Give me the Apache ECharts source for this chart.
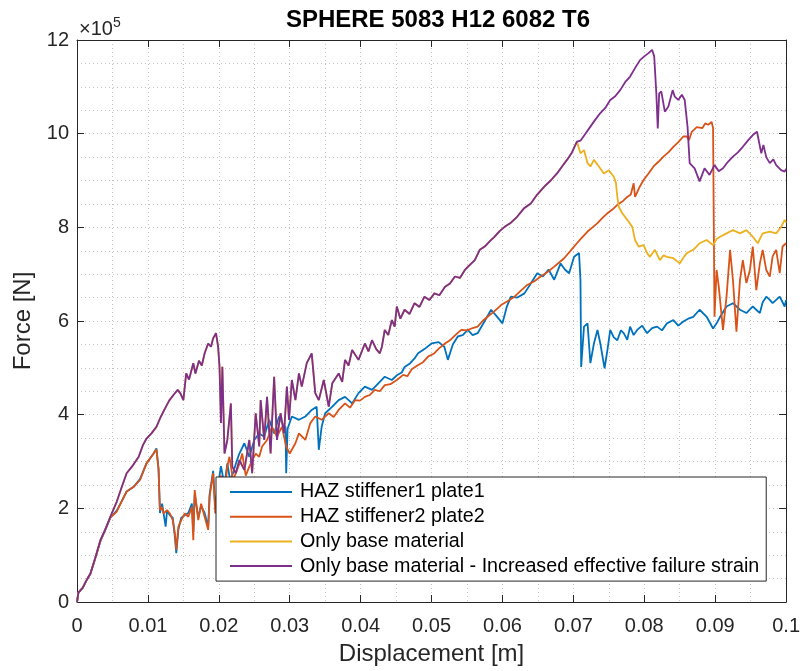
<!DOCTYPE html>
<html>
<head>
<meta charset="utf-8">
<script src="https://cdn.jsdelivr.net/npm/echarts@6/dist/echarts.min.js"></script>
<style>
  html, body { margin: 0; padding: 0; background: #fff; }
  #chart { width: 803px; height: 671px; }
</style>
</head>
<body>
<div id="chart"></div>
<script>
// displacement [m], force [x10^5 N]
var seriesNames = ['HAZ stiffener1 plate1', 'HAZ stiffener2 plate2', 'Only base material',
  'Only base material - Increased effective failure strain'];
var colors = ['#0072BD', '#D95319', '#EDB120', '#7E2F8E'];
var xTicks = [0, 0.01, 0.02, 0.03, 0.04, 0.05, 0.06, 0.07, 0.08, 0.09, 0.1];
var yTicks = [0, 2, 4, 6, 8, 10, 12];

var haz1 = [[0,0],[0.0002,0.2],[0.0008,0.3],[0.0013,0.45],[0.0019,0.61],[0.0026,0.95],[0.0033,1.3],[0.0040,1.55],
  [0.0047,1.8],[0.0056,1.95],[0.0063,2.15],[0.0070,2.36],[0.0080,2.46],[0.0089,2.63],[0.0098,2.96],[0.0108,3.17],
  [0.0112,3.28],[0.0115,2.85],[0.0117,1.9],[0.0120,2.1],[0.0125,1.61],[0.0127,1.95],[0.0131,1.85],[0.0135,1.8],
  [0.0138,1.4],[0.0140,1.04],[0.0143,1.55],[0.0147,1.8],[0.0152,1.85],[0.0157,1.9],[0.0162,2.1],[0.0164,1.5],
  [0.0166,2.3],[0.0171,1.8],[0.0175,2.05],[0.0180,1.9],[0.0185,1.6],[0.0187,2.3],[0.0192,2.8],[0.0195,2.0],
  [0.0199,2.5],[0.0203,2.9],[0.0208,2.5],[0.0212,2.96],[0.0216,2.6],[0.0220,2.75],[0.0225,3.0],[0.0229,3.17],
  [0.0236,3.39],[0.0243,3.10],[0.0250,3.46],[0.0257,3.60],[0.0264,3.53],[0.0271,3.89],[0.0278,3.60],[0.0285,3.96],
  [0.0290,3.8],[0.0294,3.74],[0.0295,2.75],[0.0297,3.7],[0.0303,3.96],[0.0313,3.89],[0.0322,3.96],[0.0331,4.10],
  [0.0338,4.17],[0.0341,3.25],[0.0345,3.74],[0.0350,4.03],[0.0360,4.17],[0.0369,4.31],[0.0378,4.38],[0.0388,4.24],
  [0.0397,4.46],[0.0406,4.60],[0.0416,4.53],[0.0425,4.67],[0.0434,4.81],[0.0444,4.74],[0.0451,4.84],[0.0458,4.9],
  [0.0462,5.02],[0.0470,5.1],[0.0476,5.2],[0.0481,5.31],[0.0490,5.4],[0.0500,5.52],[0.0510,5.55],[0.0518,5.45],
  [0.0523,5.17],[0.0530,5.5],[0.0537,5.67],[0.0544,5.7],[0.0551,5.81],[0.0558,5.7],[0.0565,5.74],[0.0575,6.0],
  [0.0584,6.24],[0.0592,6.1],[0.0600,5.95],[0.0606,6.3],[0.0612,6.52],[0.0621,6.5],[0.0631,6.59],[0.0640,6.8],
  [0.0649,7.02],[0.0657,6.95],[0.0665,7.1],[0.0673,6.88],[0.0682,7.23],[0.0688,7.1],[0.0694,7.02],[0.0701,7.37],
  [0.0708,7.45],[0.0710,6.88],[0.0711,5.02],[0.0715,5.88],[0.0720,5.95],[0.0724,5.10],[0.0729,5.52],[0.0734,5.81],
  [0.0738,5.52],[0.0744,4.99],[0.0748,5.38],[0.0752,5.81],[0.0757,5.65],[0.0762,5.59],[0.0767,5.8],[0.0771,5.74],
  [0.0776,5.6],[0.0780,5.88],[0.0785,5.7],[0.0790,5.81],[0.0797,5.9],[0.0804,5.74],[0.0811,5.85],[0.0818,5.88],
  [0.0825,5.8],[0.0832,5.95],[0.0841,6.02],[0.0848,5.9],[0.0855,5.99],[0.0862,6.05],[0.0869,6.09],[0.0878,6.24],
  [0.0888,6.09],[0.0897,5.84],[0.0902,5.95],[0.0907,6.09],[0.0916,6.31],[0.0925,6.38],[0.0935,6.24],[0.0944,6.17],
  [0.0953,6.31],[0.0963,6.17],[0.0967,6.4],[0.0972,6.52],[0.0977,6.45],[0.0981,6.38],[0.0991,6.52],[0.0995,6.4],
  [0.0998,6.31],[0.1,6.45]];

var haz2 = [[0,0],[0.0002,0.2],[0.0008,0.3],[0.0013,0.45],[0.0019,0.61],[0.0026,0.95],[0.0033,1.3],[0.0040,1.55],
  [0.0047,1.8],[0.0056,1.93],[0.0063,2.15],[0.0070,2.36],[0.0080,2.46],[0.0089,2.61],[0.0098,2.96],[0.0108,3.17],
  [0.0112,3.26],[0.0115,2.82],[0.0117,1.96],[0.0120,2.03],[0.0122,1.89],[0.0127,1.96],[0.0131,1.89],[0.0135,1.75],
  [0.0138,1.47],[0.0140,1.11],[0.0143,1.61],[0.0147,1.75],[0.0152,1.89],[0.0157,1.82],[0.0162,2.03],[0.0164,1.32],
  [0.0166,2.39],[0.0171,1.75],[0.0175,2.10],[0.0180,1.82],[0.0185,1.54],[0.0187,2.25],[0.0192,2.75],[0.0195,1.89],
  [0.0199,2.46],[0.0203,2.7],[0.0208,2.3],[0.0212,2.9],[0.0215,3.10],[0.0220,2.6],[0.0224,2.75],[0.0229,2.95],
  [0.0233,3.17],[0.0238,2.7],[0.0243,2.89],[0.0248,3.05],[0.0252,3.17],[0.0257,3.1],[0.0261,3.32],[0.0268,3.46],
  [0.0275,3.74],[0.0282,3.53],[0.0289,3.74],[0.0295,3.32],[0.0300,3.17],[0.0308,3.39],[0.0313,3.60],[0.0322,3.46],
  [0.0329,3.82],[0.0336,3.96],[0.0345,3.89],[0.0355,4.03],[0.0362,3.95],[0.0369,4.10],[0.0378,4.24],[0.0385,4.15],
  [0.0392,4.31],[0.0399,4.3],[0.0406,4.38],[0.0413,4.42],[0.0420,4.53],[0.0427,4.5],[0.0434,4.63],[0.0442,4.65],
  [0.0451,4.74],[0.0460,4.85],[0.0466,4.82],[0.0472,4.97],[0.0480,5.05],[0.0488,5.12],[0.0495,5.24],[0.0503,5.3],
  [0.0511,5.42],[0.0519,5.52],[0.0527,5.6],[0.0535,5.72],[0.0542,5.81],[0.0550,5.8],[0.0558,5.85],[0.0565,5.88],
  [0.0572,6.0],[0.0579,6.09],[0.0588,6.2],[0.0598,6.34],[0.0607,6.42],[0.0617,6.52],[0.0626,6.65],[0.0635,6.77],
  [0.0645,6.85],[0.0654,6.95],[0.0664,7.05],[0.0673,7.16],[0.0680,7.25],[0.0687,7.34],[0.0695,7.48],[0.0705,7.66],
  [0.0712,7.78],[0.0720,7.91],[0.0727,8.0],[0.0734,8.09],[0.0741,8.2],[0.0748,8.30],[0.0755,8.38],[0.0762,8.48],
  [0.0769,8.55],[0.0776,8.65],[0.0781,8.7],[0.0785,8.94],[0.0787,8.65],[0.0793,8.85],[0.0799,9.01],[0.0806,9.15],
  [0.0813,9.30],[0.0820,9.4],[0.0827,9.51],[0.0834,9.6],[0.0841,9.72],[0.0848,9.82],[0.0855,9.94],[0.0860,9.94],
  [0.0863,9.86],[0.0867,10.04],[0.0874,10.14],[0.0882,10.12],[0.0886,10.22],[0.0890,10.19],[0.0895,10.25],[0.0897,10.12],
  [0.0899,6.09],[0.0902,7.09],[0.0905,6.74],[0.0911,5.81],[0.0916,6.52],[0.0921,7.52],[0.0925,6.88],[0.0930,5.77],
  [0.0935,6.88],[0.0939,7.30],[0.0944,6.81],[0.0949,7.09],[0.0953,7.59],[0.0958,6.66],[0.0963,7.23],[0.0967,7.52],
  [0.0972,7.09],[0.0977,6.95],[0.0981,7.38],[0.0986,7.52],[0.0991,7.02],[0.0995,7.59],[0.1,7.66]];

var increasedStrain = [[0,0],[0.0002,0.2],[0.0008,0.3],[0.0013,0.45],[0.0019,0.61],[0.0026,0.95],[0.0033,1.32],
  [0.0040,1.55],[0.0047,1.82],[0.0056,2.14],[0.0063,2.45],[0.0070,2.75],[0.0078,2.9],[0.0087,3.10],[0.0093,3.35],
  [0.0098,3.49],[0.0105,3.6],[0.0112,3.74],[0.0118,3.95],[0.0124,4.13],[0.0130,4.3],[0.0136,4.42],[0.0142,4.53],
  [0.0146,4.45],[0.0150,4.31],[0.0154,4.88],[0.0158,4.75],[0.0164,5.10],[0.0167,4.88],[0.0172,5.15],[0.0176,5.05],
  [0.0180,5.31],[0.0185,5.52],[0.0189,5.45],[0.0192,5.63],[0.0196,5.74],[0.0199,5.45],[0.0201,5.02],[0.0203,3.82],
  [0.0205,5.02],[0.0208,3.17],[0.0212,3.46],[0.0217,4.24],[0.0219,2.89],[0.0224,2.75],[0.0229,3.03],[0.0236,2.82],
  [0.0243,3.46],[0.0247,2.75],[0.0252,4.03],[0.0257,3.32],[0.0259,4.31],[0.0264,3.46],[0.0268,4.38],[0.0273,3.17],
  [0.0278,4.81],[0.0282,3.46],[0.0287,4.03],[0.0292,3.60],[0.0296,4.60],[0.0299,3.89],[0.0303,4.74],[0.0308,4.31],
  [0.0313,4.88],[0.0317,4.60],[0.0324,5.10],[0.0331,5.31],[0.0336,4.46],[0.0341,4.31],[0.0348,4.74],[0.0355,4.17],
  [0.0360,4.67],[0.0369,4.88],[0.0374,4.7],[0.0378,5.17],[0.0383,5.05],[0.0388,5.38],[0.0397,5.17],[0.0406,5.52],
  [0.0411,5.35],[0.0416,5.59],[0.0422,5.4],[0.0427,5.31],[0.0430,5.45],[0.0434,5.81],[0.0439,5.7],[0.0444,6.02],
  [0.0448,5.88],[0.0451,6.31],[0.0456,6.05],[0.0462,6.24],[0.0469,6.15],[0.0476,6.38],[0.0483,6.3],[0.0490,6.52],
  [0.0497,6.45],[0.0504,6.59],[0.0511,6.55],[0.0519,6.73],[0.0526,6.8],[0.0533,6.95],[0.0540,6.92],[0.0547,7.09],
  [0.0554,7.2],[0.0561,7.30],[0.0568,7.52],[0.0575,7.59],[0.0582,7.7],[0.0589,7.80],[0.0596,7.92],[0.0603,8.01],
  [0.0612,8.1],[0.0621,8.23],[0.0630,8.4],[0.0640,8.51],[0.0649,8.7],[0.0659,8.87],[0.0668,9.0],[0.0677,9.15],
  [0.0684,9.3],[0.0691,9.44],[0.0698,9.6],[0.0705,9.83],[0.0710,9.85],[0.0717,10.0],[0.0724,10.15],[0.0731,10.3],
  [0.0738,10.44],[0.0745,10.55],[0.0752,10.72],[0.0759,10.8],[0.0766,10.93],[0.0773,11.1],[0.0780,11.22],[0.0787,11.4],
  [0.0794,11.57],[0.0800,11.65],[0.0806,11.72],[0.0811,11.79],[0.0814,11.65],[0.0817,10.86],[0.0819,10.11],[0.0821,10.86],
  [0.0824,10.90],[0.0829,10.47],[0.0834,10.58],[0.0840,10.93],[0.0843,10.79],[0.0848,10.72],[0.0853,10.83],[0.0857,10.72],
  [0.0861,10.15],[0.0864,9.37],[0.0871,9.26],[0.0878,8.98],[0.0885,9.26],[0.0892,9.12],[0.0899,9.33],[0.0905,9.2],
  [0.0911,9.26],[0.0918,9.4],[0.0925,9.51],[0.0932,9.6],[0.0939,9.72],[0.0946,9.85],[0.0953,9.97],[0.0959,10.04],
  [0.0965,9.58],[0.0968,9.76],[0.0972,9.5],[0.0977,9.37],[0.0982,9.45],[0.0986,9.33],[0.0993,9.22],[0.0998,9.19],[0.1,9.25]];

// base material follows the increased-strain curve until it fails near 0.0705 m
var baseTail = [[0.0710,9.58],[0.0715,9.65],[0.0720,9.37],[0.0724,9.30],[0.0729,9.44],[0.0736,9.30],[0.0743,9.15],
  [0.0750,9.22],[0.0757,9.08],[0.0760,8.95],[0.0762,8.65],[0.0764,8.44],[0.0769,8.30],[0.0776,8.16],[0.0783,8.01],
  [0.0787,7.73],[0.0792,7.59],[0.0799,7.62],[0.0804,7.45],[0.0808,7.37],[0.0815,7.52],[0.0822,7.30],[0.0827,7.4],
  [0.0832,7.37],[0.0841,7.34],[0.0850,7.23],[0.0855,7.35],[0.0860,7.45],[0.0869,7.52],[0.0878,7.66],[0.0888,7.73],
  [0.0897,7.62],[0.0902,7.75],[0.0907,7.80],[0.0916,7.87],[0.0925,7.94],[0.0935,7.87],[0.0944,7.94],[0.0953,7.80],
  [0.0960,7.66],[0.0967,7.87],[0.0977,7.91],[0.0986,7.87],[0.0993,8.01],[0.0998,8.16],[0.1,8.1]];
var baseOnly = increasedStrain.filter(function (p) { return p[0] <= 0.0705; }).concat(baseTail);

var allData = [haz1, haz2, baseOnly, increasedStrain];

var font = "'Liberation Sans', Arial, Helvetica, sans-serif";
var axisColor = '#262626';
var gridDot = { color: '#c4c4c4', type: [1, 3], width: 1 };

var series = [];
for (var i = 0; i < allData.length; i++) {
  series.push({
    name: seriesNames[i],
    type: 'line',
    data: allData[i],
    showSymbol: false,
    symbol: 'none',
    color: colors[i],
    lineStyle: { width: 1.8, color: colors[i] },
    xAxisIndex: 0,
    yAxisIndex: 0,
    z: 2 + i
  });
}

var myChart = echarts.init(document.getElementById('chart'));
var option = {
  animation: false,
  backgroundColor: '#fff',
  title: {
    text: 'SPHERE 5083 H12 6082 T6',
    left: 433, top: 3, textAlign: 'center',
    textStyle: { fontFamily: font, fontSize: 24, fontWeight: 'bold', color: '#000' }
  },
  grid: { left: 77, right: 13, top: 40, bottom: 69 },
  legend: {
    data: seriesNames,
    orient: 'vertical',
    left: 216, top: 477,
    backgroundColor: '#fff',
    borderColor: '#262626',
    borderWidth: 1,
    borderRadius: 0,
    padding: [5, 7, 5, 14],
    itemGap: 4.7,
    itemWidth: 62,
    itemHeight: 2,
    icon: 'rect',
    textStyle: { fontFamily: font, fontSize: 19.7, color: '#000', lineHeight: 20, padding: [0, 0, 0, 3] }
  },
  xAxis: [{
    type: 'value', min: 0, max: 0.1, interval: 0.01,
    name: 'Displacement [m]', nameLocation: 'middle', nameGap: 40,
    nameTextStyle: { fontFamily: font, fontSize: 24, color: axisColor },
    axisLine: { onZero: false, lineStyle: { color: axisColor, width: 1 } },
    axisTick: { inside: true, length: 7, lineStyle: { color: axisColor } },
    axisLabel: {
      fontFamily: font, fontSize: 20, color: axisColor, margin: 14,
      formatter: function (v) { return String(parseFloat(v.toFixed(3))); }
    },
    splitLine: { show: true, lineStyle: gridDot },
    minorTick: { show: false, splitNumber: 2 },
    minorSplitLine: { show: true, lineStyle: gridDot }
  }, {
    type: 'value', min: 0, max: 0.1, interval: 0.01, position: 'top',
    axisLine: { show: true, onZero: false, lineStyle: { color: axisColor, width: 1 } },
    axisTick: { inside: true, length: 7, lineStyle: { color: axisColor } },
    axisLabel: { show: false },
    splitLine: { show: false }
  }],
  yAxis: [{
    type: 'value', min: 0, max: 12, interval: 2,
    name: 'Force [N]', nameLocation: 'middle', nameGap: 40,
    nameTextStyle: { fontFamily: font, fontSize: 24, color: axisColor },
    axisLine: { show: true, onZero: false, lineStyle: { color: axisColor, width: 1 } },
    axisTick: { show: true, inside: true, length: 7, lineStyle: { color: axisColor } },
    axisLabel: { fontFamily: font, fontSize: 20, color: axisColor, margin: 8 },
    splitLine: { show: true, lineStyle: gridDot },
    minorTick: { show: false, splitNumber: 4 },
    minorSplitLine: { show: true, lineStyle: gridDot }
  }, {
    type: 'value', min: 0, max: 12, interval: 2, position: 'right',
    axisLine: { show: true, onZero: false, lineStyle: { color: axisColor, width: 1 } },
    axisTick: { show: true, inside: true, length: 7, lineStyle: { color: axisColor } },
    axisLabel: { show: false },
    splitLine: { show: false }
  }],
  graphic: [{
    type: 'text', left: 79, top: 16,
    style: {
      text: '{a|\u00d710}{b|5}',
      rich: {
        a: { fontFamily: font, fontSize: 20, fill: axisColor, verticalAlign: 'bottom' },
        b: { fontFamily: font, fontSize: 14, fill: axisColor, verticalAlign: 'top', padding: [0, 0, 9, 0] }
      }
    }
  }],
  series: series
};
myChart.setOption(option);
</script>
</body>
</html>
